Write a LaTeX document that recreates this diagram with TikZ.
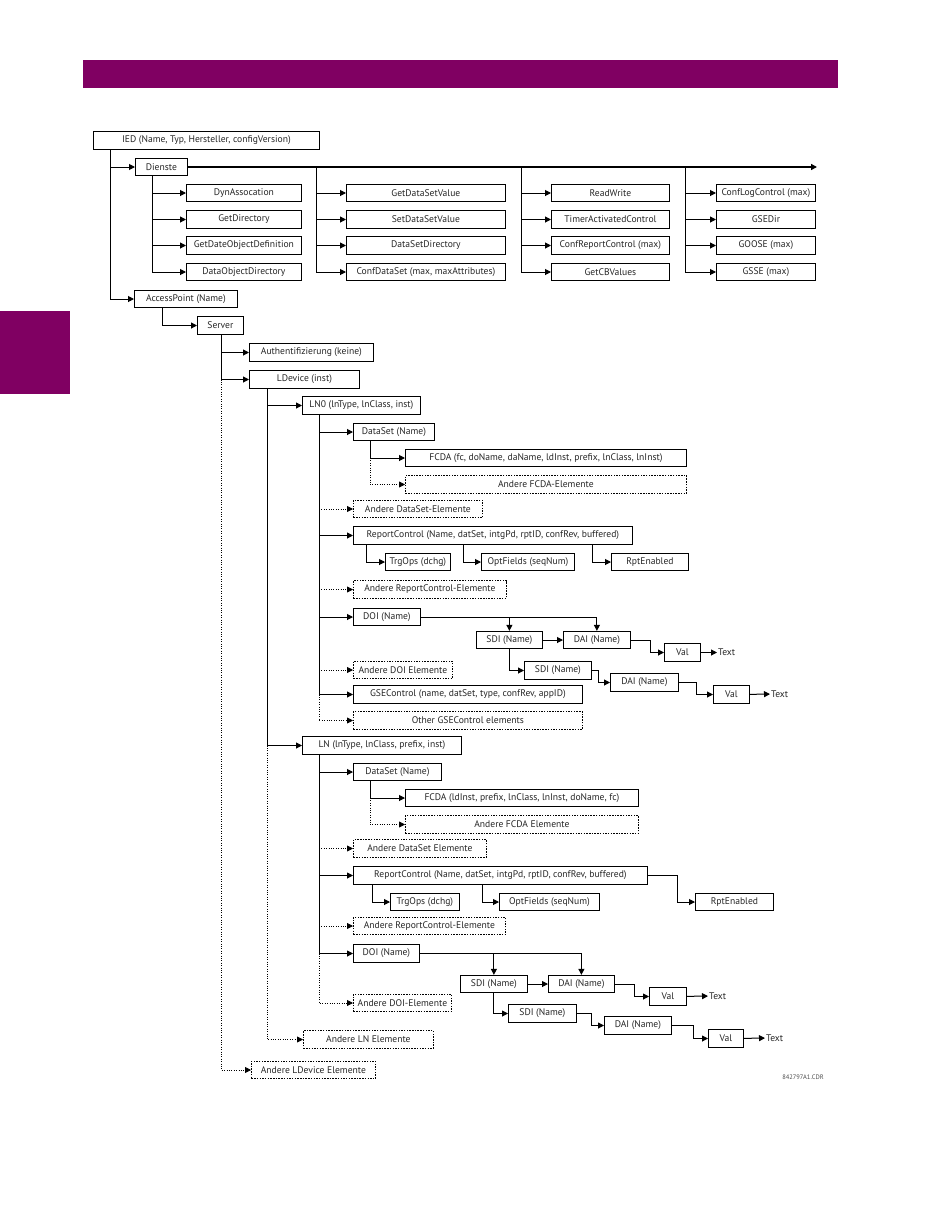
\documentclass[tikz,border=0pt]{standalone}
\usepackage{fontspec}
\setmainfont{PT Sans}
\usetikzlibrary{arrows.meta}
\definecolor{gepurple}{RGB}{128,0,98}

\begin{document}
\begin{tikzpicture}[x=1pt,y=-1pt,
  txt/.style={font=\fontsize{9.6}{11}\selectfont,text=black!85},
  box/.style={txt,draw,line width=0.8pt,minimum height=17.5pt,inner sep=0pt,anchor=west},
  obox/.style={box,dash pattern=on 1.5pt off 1.2pt},
  arr/.style={line width=1pt,-{Triangle[length=6pt,width=6pt]}},
  darr/.style={arr,line width=0.8pt,dash pattern=on 1pt off 1.4pt},
  lbl/.style={txt,anchor=west,inner sep=1pt}]
  \fill[white] (0,0) rectangle (950,1229);
  \useasboundingbox (0,0) rectangle (950,1229);
  \fill[gepurple] (83,60) rectangle (838,88);
  \fill[gepurple] (0,311) rectangle (70,394);

  % IED and services
  \node (ied) at (93,140.5) [box,minimum width=226pt]{IED (Name, Typ, Hersteller, configVersion)};
  \node (dienste) at (135,167) [box,minimum width=52pt]{Dienste};
  \node (dyn) at (186,193) [box,minimum width=115pt]{DynAssocation};
  \node (gdir) at (186,219.5) [box,minimum width=115pt]{GetDirectory};
  \node (gdod) at (186,245.5) [box,minimum width=115pt]{GetDateObjectDefinition};
  \node (dod) at (186,272) [box,minimum width=115pt]{DataObjectDirectory};
  \node (gdsv) at (346,193) [box,minimum width=159pt]{GetDataSetValue};
  \node (sdsv) at (346,219.5) [box,minimum width=159pt]{SetDataSetValue};
  \node (dsd) at (346,245.5) [box,minimum width=159pt]{DataSetDirectory};
  \node (cds) at (346,272) [box,minimum width=159pt]{ConfDataSet (max, maxAttributes)};
  \node (rw) at (551,193) [box,minimum width=118pt]{ReadWrite};
  \node (tac) at (551,219.5) [box,minimum width=118pt]{TimerActivatedControl};
  \node (crc) at (551,245.5) [box,minimum width=118pt]{ConfReportControl (max)};
  \node (gcb) at (551,272) [box,minimum width=118pt]{GetCBValues};
  \node (clc) at (716,193) [box,minimum width=99pt]{ConfLogControl (max)};
  \node (gsed) at (716,219.5) [box,minimum width=99pt]{GSEDir};
  \node (goose) at (716,245.5) [box,minimum width=99pt]{GOOSE (max)};
  \node (gsse) at (716,272) [box,minimum width=99pt]{GSSE (max)};

  % access point, server, logical device
  \node (accp) at (134,299) [box,minimum width=103pt]{AccessPoint (Name)};
  \node (server) at (197,325.5) [box,minimum width=46pt]{Server};
  \node (auth) at (249,352.5) [box,minimum width=124pt]{Authentifizierung (keine)};
  \node (ldev) at (249,379.5) [box,minimum width=110pt]{LDevice (inst)};
  \node (oldev) at (251,1070) [obox,minimum width=124pt]{Andere LDevice Elemente};
  \node (oln) at (303,1039.5) [obox,minimum width=130pt]{Andere LN Elemente};

  % LN0
  \node (lnz) at (302,405.5) [box,minimum width=118pt]{LN0 (lnType, lnClass, inst)};
  \node (dsa) at (353,432) [box,minimum width=81pt]{DataSet (Name)};
  \node (fcda) at (405,458) [box,minimum width=281pt]{FCDA (fc, doName, daName, ldInst, prefix, lnClass, lnInst)};
  \node (ofcda) at (405,484.5) [obox,minimum width=281pt]{Andere FCDA-Elemente};
  \node (odsa) at (353,509) [obox,minimum width=129pt]{Andere DataSet-Elemente};
  \node (rca) at (353,535.5) [box,minimum width=279pt]{ReportControl (Name, datSet, intgPd, rptID, confRev, buffered)};
  \node (trga) at (385,562) [box,minimum width=65pt]{TrgOps (dchg)};
  \node (opta) at (481,562) [box,minimum width=93pt]{OptFields (seqNum)};
  \node (rpta) at (611,562) [box,minimum width=77pt]{RptEnabled};
  \node (orca) at (353,589.5) [obox,minimum width=153pt]{Andere ReportControl-Elemente};
  \node (doia) at (353,617) [box,minimum width=67pt]{DOI (Name)};
  \node (sdia) at (476,640) [box,minimum width=66pt]{SDI (Name)};
  \node (daia) at (563,640) [box,minimum width=67pt]{DAI (Name)};
  \node (vala) at (664,652.5) [box,minimum width=36pt]{Val};
  \node (texta) at (717,652.5) [lbl]{Text};
  \node (odoia) at (353,670) [obox,minimum width=99pt]{Andere DOI Elemente};
  \node (sdib) at (524,670.5) [box,minimum width=67pt]{SDI (Name)};
  \node (daib) at (610,682.5) [box,minimum width=68pt]{DAI (Name)};
  \node (valb) at (713,694.5) [box,minimum width=36pt]{Val};
  \node (textb) at (770,694) [lbl]{Text};
  \node (gsec) at (353,694.5) [box,minimum width=229pt]{GSEControl (name, datSet, type, confRev, appID)};
  \node (ogsec) at (353,720.5) [obox,minimum width=229pt]{Other GSEControl elements};

  % LN
  \node (lnn) at (302,745.5) [box,minimum width=159pt]{LN (lnType, lnClass, prefix, inst)};
  \node (dsb) at (353,772) [box,minimum width=88pt]{DataSet (Name)};
  \node (fcdb) at (405,798) [box,minimum width=233pt]{FCDA (ldInst, prefix, lnClass, lnInst, doName, fc)};
  \node (ofcdb) at (405,824.5) [obox,minimum width=233pt]{Andere FCDA Elemente};
  \node (odsb) at (353,848.5) [obox,minimum width=133pt]{Andere DataSet Elemente};
  \node (rcb) at (353,875.5) [box,minimum width=294pt]{ReportControl (Name, datSet, intgPd, rptID, confRev, buffered)};
  \node (trgb) at (390,902) [box,minimum width=69pt]{TrgOps (dchg)};
  \node (optb) at (499,902) [box,minimum width=100pt]{OptFields (seqNum)};
  \node (rptb) at (695,902) [box,minimum width=78pt]{RptEnabled};
  \node (orcb) at (353,926) [obox,minimum width=152pt]{Andere ReportControl-Elemente};
  \node (doib) at (353,953.5) [box,minimum width=66pt]{DOI (Name)};
  \node (sdic) at (460,984) [box,minimum width=67pt]{SDI (Name)};
  \node (daic) at (548,984) [box,minimum width=66pt]{DAI (Name)};
  \node (valc) at (649,996.5) [box,minimum width=37pt]{Val};
  \node (textc) at (708,996) [lbl]{Text};
  \node (odoib) at (353,1003) [obox,minimum width=98pt]{Andere DOI-Elemente};
  \node (sdid) at (508,1013.5) [box,minimum width=68pt]{SDI (Name)};
  \node (daid) at (604,1025.5) [box,minimum width=67pt]{DAI (Name)};
  \node (vald) at (708,1038.5) [box,minimum width=35pt]{Val};
  \node (textd) at (765,1038) [lbl]{Text};

  \node (cdr) at (803,1077) [font=\fontsize{6.5}{7}\selectfont,text=black!70]{842797A1.CDR};

  % trunks
  \coordinate (dend) at (817,167);
  \coordinate (itrunk) at ([xshift=17pt]ied.south west);
  \coordinate (strunk1) at ([xshift=17pt]dienste.south west);
  \coordinate (strunk2) at (316,167);
  \coordinate (strunk3) at (521,167);
  \coordinate (strunk4) at (685,167);
  \coordinate (atrunk) at ([xshift=28pt]accp.south west);
  \coordinate (vtrunk) at ([xshift=24pt]server.south west);
  \coordinate (ltrunk) at ([xshift=18pt]ldev.south west);
  \coordinate (ntrunk) at ([xshift=17pt]lnz.south west);
  \coordinate (dtrunk) at ([xshift=17pt]dsa.south west);
  \coordinate (mtrunk) at ([xshift=17pt]lnn.south west);
  \coordinate (etrunk) at ([xshift=17pt]dsb.south west);

  \draw[arr] (itrunk) |- (dienste);
  \draw[arr] (itrunk) |- (accp);
  \draw[arr,line width=1.5pt] (dienste) -- (dend);
  \draw[arr] (strunk1) |- (dyn);
  \draw[arr] (strunk1) |- (gdir);
  \draw[arr] (strunk1) |- (gdod);
  \draw[arr] (strunk1) |- (dod);
  \draw[arr] (strunk2) |- (gdsv);
  \draw[arr] (strunk2) |- (sdsv);
  \draw[arr] (strunk2) |- (dsd);
  \draw[arr] (strunk2) |- (cds);
  \draw[arr] (strunk3) |- (rw);
  \draw[arr] (strunk3) |- (tac);
  \draw[arr] (strunk3) |- (crc);
  \draw[arr] (strunk3) |- (gcb);
  \draw[arr] (strunk4) |- (clc);
  \draw[arr] (strunk4) |- (gsed);
  \draw[arr] (strunk4) |- (goose);
  \draw[arr] (strunk4) |- (gsse);

  \draw[arr] (atrunk) |- (server);
  \draw[arr] (vtrunk) |- (auth);
  \draw[arr] (vtrunk) |- (ldev);
  \draw[darr] (vtrunk |- ldev) |- (oldev);
  \draw[arr] (ltrunk) |- (lnz);
  \draw[arr] (ltrunk) |- (lnn);
  \draw[darr] (ltrunk |- lnn) |- (oln);

  \draw[arr] (ntrunk) |- (dsa);
  \draw[arr] (ntrunk) |- (rca);
  \draw[arr] (ntrunk) |- (doia);
  \draw[arr] (ntrunk) |- (gsec);
  \draw[darr] (ntrunk |- odsa) -- (odsa);
  \draw[darr] (ntrunk |- orca) -- (orca);
  \draw[darr] (ntrunk |- odoia) -- (odoia);
  \draw[darr] (ntrunk |- gsec) |- (ogsec);
  \draw[arr] (dtrunk) |- (fcda);
  \draw[darr] (dtrunk |- fcda) |- (ofcda);
  \draw[arr] ([xshift=13pt]rca.south west) |- (trga);
  \draw[arr] ([xshift=110pt]rca.south west) |- (opta);
  \draw[arr] ([xshift=239pt]rca.south west) |- (rpta);
  \draw[arr] (doia) -| (sdia);
  \draw[arr] (doia) -| (daia);
  \draw[arr] (sdia) -- (daia);
  \draw[arr] (daia.east) -- ++(20,0) |- (vala);
  \draw[arr] (vala) -- (texta);
  \draw[arr] (sdia) |- (sdib);
  \draw[arr] (sdib.east) -- ++(7,0) |- (daib);
  \draw[arr] (daib.east) -- ++(18,0) |- (valb);
  \draw[arr] (valb) -- (textb);

  \draw[arr] (mtrunk) |- (dsb);
  \draw[arr] (mtrunk) |- (rcb);
  \draw[arr] (mtrunk) |- (doib);
  \draw[darr] (mtrunk |- odsb) -- (odsb);
  \draw[darr] (mtrunk |- orcb) -- (orcb);
  \draw[darr] (mtrunk |- doib) |- (odoib);
  \draw[arr] (etrunk) |- (fcdb);
  \draw[darr] (etrunk |- fcdb) |- (ofcdb);
  \draw[arr] ([xshift=19pt]rcb.south west) |- (trgb);
  \draw[arr] ([xshift=129pt]rcb.south west) |- (optb);
  \draw[arr] (rcb.east) -- ++(30,0) |- (rptb);
  \draw[arr] (doib) -| (sdic);
  \draw[arr] (doib) -| (daic);
  \draw[arr] (sdic) -- (daic);
  \draw[arr] (daic.east) -- ++(20,0) |- (valc);
  \draw[arr] (valc) -- (textc);
  \draw[arr] (sdic) |- (sdid);
  \draw[arr] (sdid.east) -- ++(15,0) |- (daid);
  \draw[arr] (daid.east) -- ++(22,0) |- (vald);
  \draw[arr] (vald) -- (textd);
\end{tikzpicture}
\end{document}
